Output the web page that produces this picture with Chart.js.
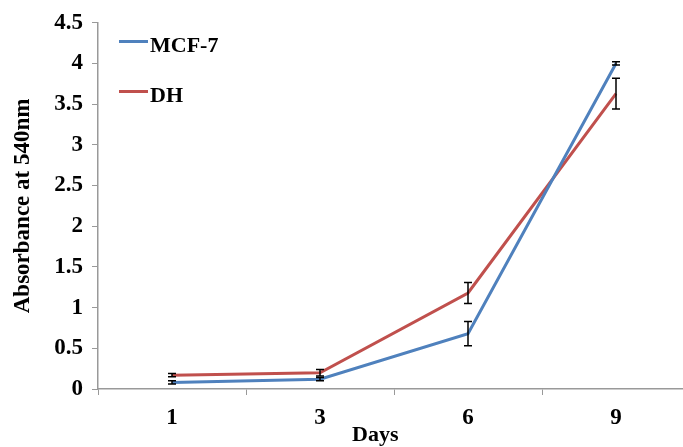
<!DOCTYPE html>
<html>
<head>
<meta charset="utf-8">
<script src="https://cdn.jsdelivr.net/npm/chart.js@4/dist/chart.umd.min.js"></script>
<style>
  html, body { margin: 0; padding: 0; background: #fff; overflow: hidden; width: 683px; height: 447px; }
  #wrap { position: relative; width: 700px; height: 447px; }
  .lab { position: absolute; font-family: "Liberation Serif", serif; font-weight: bold; color: #000; white-space: nowrap; }
  .key { position: absolute; height: 3px; width: 29px; }
</style>
</head>
<body>
<div id="wrap">
  <canvas id="chart" width="700" height="447"></canvas>
  <div class="key" style="left:119px;top:40px;background:#4F81BD"></div>
  <div class="lab" style="left:150px;top:32px;font-size:22px">MCF-7</div>
  <div class="key" style="left:119px;top:90px;background:#C0504D"></div>
  <div class="lab" style="left:150px;top:82px;font-size:22px">DH</div>
  <div class="lab" style="left:352px;top:421px;font-size:22px">Days</div>
</div>
<script>
const days = ['1', '3', '6', '9']
const mcf7 = [0.08, 0.12, 0.68, 4.0]
const mcf7Err = [0.02, 0.02, 0.15, 0.02]
const dh = [0.17, 0.20, 1.18, 3.63]
const dhErr = [0.02, 0.04, 0.13, 0.19]

// draws the error bars from the scales
const errorBars = {
    id: 'errorBars',
    afterDatasetsDraw(chart) {
        const ctx = chart.ctx
        const x = chart.scales.x
        const y = chart.scales.y
        ctx.save()
        ctx.strokeStyle = '#000'
        ctx.lineWidth = 1.5
        chart.data.datasets.forEach(ds => {
            ds.data.forEach((v, i) => {
                const px = x.getPixelForValue(i)
                const top = y.getPixelForValue(v + ds.err[i])
                const bot = y.getPixelForValue(v - ds.err[i])
                ctx.beginPath()
                ctx.moveTo(px, top); ctx.lineTo(px, bot)
                ctx.moveTo(px - 4, top); ctx.lineTo(px + 4, top)
                ctx.moveTo(px - 4, bot); ctx.lineTo(px + 4, bot)
                ctx.stroke()
            })
        })
        ctx.restore()
    }
}

const tickFont = { family: 'Liberation Serif', weight: 'bold', size: 23 }

new Chart(document.getElementById('chart').getContext('2d'), {
    type: 'line',
    data: {
        labels: days,
        datasets: [
            { label: 'MCF-7', data: mcf7, err: mcf7Err, borderColor: '#4F81BD', backgroundColor: '#4F81BD', borderWidth: 3, pointRadius: 0, tension: 0 },
            { label: 'DH', data: dh, err: dhErr, borderColor: '#C0504D', backgroundColor: '#C0504D', borderWidth: 3, pointRadius: 0, tension: 0 }
        ]
    },
    options: {
        responsive: false,
        animation: false,
        layout: { padding: { top: 21, right: 10, left: 0, bottom: 0 } },
        plugins: { legend: { display: false }, tooltip: { enabled: false } },
        scales: {
            x: {
                offset: true,
                grid: { offset: true, drawOnChartArea: false, color: '#999', tickLength: 6 },
                border: { color: '#999', width: 1.5 },
                ticks: { font: tickFont, color: '#000', padding: 9, maxRotation: 0 },
                afterFit(s) { s.height = 58 }
            },
            y: {
                min: 0, max: 4.5,
                grid: { drawOnChartArea: false, color: '#999', tickLength: 6 },
                border: { color: '#999', width: 1.5 },
                ticks: { stepSize: 0.5, font: tickFont, color: '#000', padding: 9, callback: v => String(v) },
                title: { display: true, text: 'Absorbance at 540nm', font: { family: 'Liberation Serif', weight: 'bold', size: 23 }, color: '#000', padding: { top: 9, bottom: 0 } },
                afterFit(s) { s.width = 98 }
            }
        }
    },
    plugins: [errorBars]
})
</script>
</body>
</html>
